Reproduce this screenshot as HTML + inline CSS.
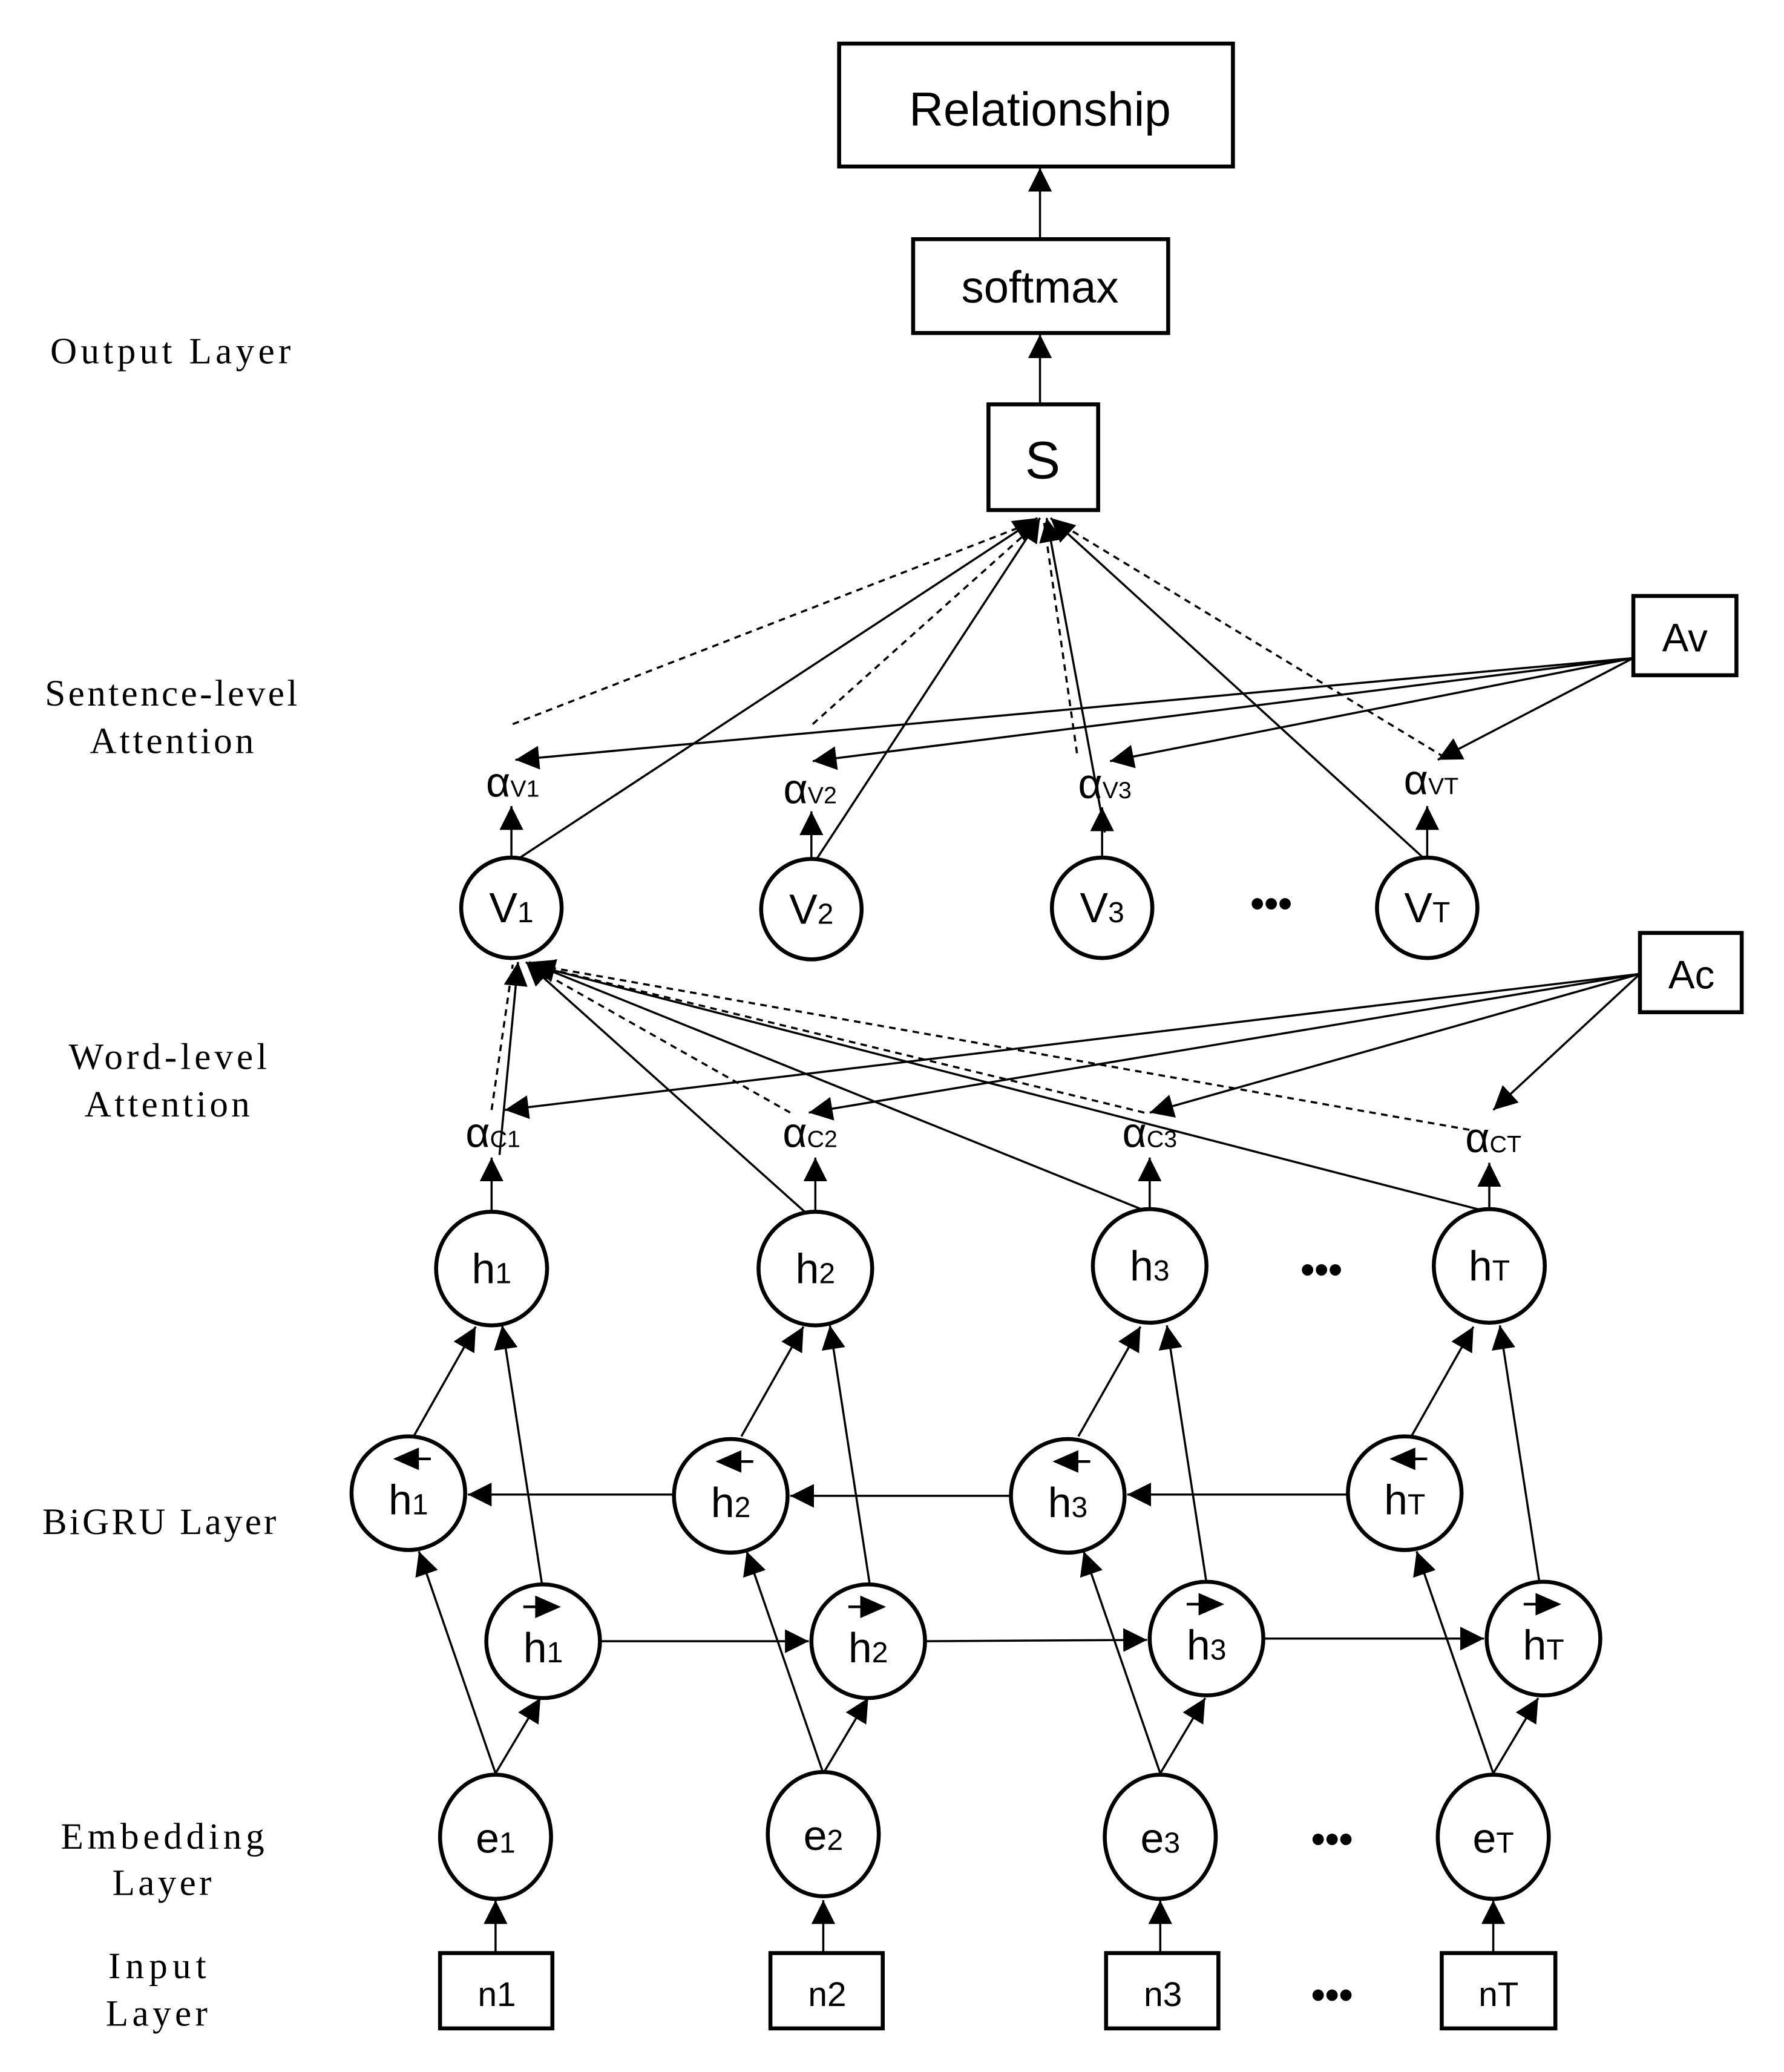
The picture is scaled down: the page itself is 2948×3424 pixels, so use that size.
<!DOCTYPE html>
<html><head><meta charset="utf-8"><style>html,body{margin:0;padding:0;background:#fff}svg{display:block}</style></head>
<body>
<svg width="2948" height="3424" viewBox="0 0 1350 1568" preserveAspectRatio="none" xmlns="http://www.w3.org/2000/svg">
<defs>
<marker id="a" viewBox="0 0 10 10" refX="10" refY="5" markerWidth="18" markerHeight="18" markerUnits="userSpaceOnUse" orient="auto"><path d="M0,0L10,5L0,10z" fill="#000"/></marker>
</defs>
<rect width="1350" height="1568" fill="#fff"/>
<g font-family="Liberation Serif, serif" font-size="28" fill="#000" lengthAdjust="spacingAndGlyphs">
<text x="38" y="275" textLength="182">Output Layer</text>
<text x="34" y="534" textLength="191">Sentence-level</text><text x="68" y="570" textLength="124">Attention</text>
<text x="52" y="809" textLength="150">Word-level</text><text x="64" y="845" textLength="125">Attention</text>
<text x="32" y="1161" textLength="177">BiGRU Layer</text>
<text x="46" y="1399" textLength="154">Embedding</text><text x="85" y="1434" textLength="75">Layer</text>
<text x="82" y="1497" textLength="74">Input</text><text x="80" y="1533" textLength="77">Layer</text>
</g>
<g stroke="#000" stroke-width="1.6" fill="none">
<line x1="787" y1="181" x2="787" y2="127" marker-end="url(#a)"/>
<line x1="787" y1="306" x2="787" y2="253" marker-end="url(#a)"/>
<line x1="392" y1="650" x2="785" y2="392" marker-end="url(#a)"/>
<line x1="618" y1="650" x2="787" y2="392" marker-end="url(#a)"/>
<line x1="836" y1="630" x2="792" y2="392" marker-end="url(#a)"/>
<line x1="1078" y1="650" x2="795" y2="392" marker-end="url(#a)"/>
<g stroke-dasharray="5,4">
<line x1="388" y1="548" x2="782" y2="395"/>
<line x1="615" y1="548" x2="786" y2="395"/>
<line x1="815" y1="570" x2="790" y2="395"/>
<line x1="1093" y1="573" x2="800" y2="395"/>
</g>
<line x1="1236" y1="498" x2="390" y2="575" marker-end="url(#a)"/>
<line x1="1236" y1="498" x2="615" y2="576" marker-end="url(#a)"/>
<line x1="1236" y1="498" x2="840" y2="576" marker-end="url(#a)"/>
<line x1="1236" y1="498" x2="1088" y2="575" marker-end="url(#a)"/>
<line x1="387" y1="649" x2="387" y2="610" marker-end="url(#a)"/>
<line x1="614" y1="650" x2="614" y2="614" marker-end="url(#a)"/>
<line x1="834" y1="649" x2="834" y2="611" marker-end="url(#a)"/>
<line x1="1080" y1="649" x2="1080" y2="610" marker-end="url(#a)"/>
<line x1="378" y1="874" x2="392" y2="728" marker-end="url(#a)"/>
<line x1="610" y1="918" x2="398" y2="728" marker-end="url(#a)"/>
<line x1="866" y1="916" x2="400" y2="728" marker-end="url(#a)"/>
<line x1="1122" y1="916" x2="402" y2="730" marker-end="url(#a)"/>
<g stroke-dasharray="5,4">
<line x1="372" y1="840" x2="388" y2="730"/>
<line x1="598" y1="842" x2="400" y2="730"/>
<line x1="866" y1="842" x2="402" y2="730"/>
<line x1="1112" y1="855" x2="404" y2="730"/>
</g>
<line x1="1241" y1="737" x2="382" y2="840" marker-end="url(#a)"/>
<line x1="1241" y1="737" x2="612" y2="842" marker-end="url(#a)"/>
<line x1="1241" y1="737" x2="870" y2="842" marker-end="url(#a)"/>
<line x1="1241" y1="737" x2="1130" y2="840" marker-end="url(#a)"/>
<line x1="372" y1="917" x2="372" y2="876" marker-end="url(#a)"/>
<line x1="617" y1="917" x2="617" y2="876" marker-end="url(#a)"/>
<line x1="870" y1="915" x2="870" y2="876" marker-end="url(#a)"/>
<line x1="1127" y1="915" x2="1127" y2="880" marker-end="url(#a)"/>
<g id="col">
<line x1="375" y1="1342" x2="409" y2="1285" marker-end="url(#a)"/>
<line x1="375" y1="1342" x2="317" y2="1174" marker-end="url(#a)"/>
<line x1="313" y1="1087" x2="360" y2="1004" marker-end="url(#a)"/>
<line x1="410" y1="1198" x2="380" y2="1003" marker-end="url(#a)"/>
<line x1="375" y1="1478" x2="375" y2="1438" marker-end="url(#a)"/>
</g>
<use href="#col" transform="translate(248,0)"/>
<use href="#col" transform="translate(503,0)"/>
<use href="#col" transform="translate(755,0)"/>
<line x1="454" y1="1242" x2="612" y2="1242" marker-end="url(#a)"/>
<line x1="700" y1="1242" x2="868" y2="1241" marker-end="url(#a)"/>
<line x1="956" y1="1240" x2="1123" y2="1240" marker-end="url(#a)"/>
<line x1="509" y1="1131" x2="354" y2="1131" marker-end="url(#a)"/>
<line x1="764" y1="1132" x2="598" y2="1132" marker-end="url(#a)"/>
<line x1="1019" y1="1131" x2="853" y2="1131" marker-end="url(#a)"/>
</g>
<g stroke="#000" stroke-width="3" fill="#fff">
<rect x="635" y="33" width="298" height="93"/>
<rect x="691" y="181" width="193" height="71"/>
<rect x="748" y="306" width="83" height="80"/>
<rect x="1236" y="451" width="78" height="60"/>
<rect x="1241" y="706" width="77" height="60"/>
<ellipse cx="387" cy="687" rx="38" ry="38"/>
<ellipse cx="614" cy="688" rx="38" ry="38"/>
<ellipse cx="834" cy="687" rx="38" ry="38"/>
<ellipse cx="1080" cy="687" rx="38" ry="38"/>
<ellipse cx="372" cy="960" rx="42" ry="43"/>
<ellipse cx="617" cy="960" rx="43" ry="43"/>
<ellipse cx="870" cy="958" rx="43" ry="43"/>
<ellipse cx="1127" cy="958" rx="42" ry="43"/>
<ellipse cx="309" cy="1130" rx="43" ry="43"/>
<ellipse cx="553" cy="1132" rx="43" ry="43"/>
<ellipse cx="808" cy="1132" rx="43" ry="43"/>
<ellipse cx="1063" cy="1130" rx="43" ry="43"/>
<ellipse cx="411" cy="1242" rx="43" ry="43"/>
<ellipse cx="657" cy="1242" rx="43" ry="43"/>
<ellipse cx="913" cy="1240" rx="43" ry="43"/>
<ellipse cx="1168" cy="1240" rx="43" ry="43"/>
<ellipse cx="375" cy="1390" rx="42" ry="47"/>
<ellipse cx="623" cy="1388" rx="42" ry="47"/>
<ellipse cx="878" cy="1390" rx="42" ry="47"/>
<ellipse cx="1130" cy="1390" rx="42" ry="47"/>
<rect x="333" y="1478" width="85" height="57"/>
<rect x="583" y="1478" width="85" height="57"/>
<rect x="837" y="1478" width="85" height="57"/>
<rect x="1091" y="1478" width="86" height="57"/>
</g>
<g font-family="Liberation Sans, sans-serif" text-anchor="middle" fill="#000">
<text x="787" y="95" font-size="36">Relationship</text>
<text x="787" y="229" font-size="34">softmax</text>
<text x="789" y="362" font-size="40">S</text>
<text x="1275" y="493" font-size="30">Av</text>
<text x="1280" y="748" font-size="30">Ac</text>
<g font-size="32">
<text x="387" y="698">V<tspan font-size="22">1</tspan></text>
<text x="614" y="699">V<tspan font-size="22">2</tspan></text>
<text x="834" y="698">V<tspan font-size="22">3</tspan></text>
<text x="1080" y="698">V<tspan font-size="22">T</tspan></text>
<text x="372" y="971">h<tspan font-size="22">1</tspan></text>
<text x="617" y="971">h<tspan font-size="22">2</tspan></text>
<text x="870" y="969">h<tspan font-size="22">3</tspan></text>
<text x="1127" y="969">h<tspan font-size="22">T</tspan></text>
<text x="309" y="1146">h<tspan font-size="22">1</tspan></text>
<text x="553" y="1148">h<tspan font-size="22">2</tspan></text>
<text x="808" y="1148">h<tspan font-size="22">3</tspan></text>
<text x="1063" y="1146">h<tspan font-size="22">T</tspan></text>
<text x="411" y="1258">h<tspan font-size="22">1</tspan></text>
<text x="657" y="1258">h<tspan font-size="22">2</tspan></text>
<text x="913" y="1256">h<tspan font-size="22">3</tspan></text>
<text x="1168" y="1256">h<tspan font-size="22">T</tspan></text>
<text x="375" y="1402">e<tspan font-size="22">1</tspan></text>
<text x="623" y="1400">e<tspan font-size="22">2</tspan></text>
<text x="878" y="1402">e<tspan font-size="22">3</tspan></text>
<text x="1130" y="1402">e<tspan font-size="22">T</tspan></text>
</g>
<g font-size="26">
<text x="376" y="1518">n1</text><text x="626" y="1518">n2</text><text x="880" y="1518">n3</text><text x="1134" y="1518">nT</text>
</g>
<g font-size="32">
<text x="388" y="603">α<tspan font-size="18">V1</tspan></text>
<text x="613" y="608">α<tspan font-size="18">V2</tspan></text>
<text x="836" y="604">α<tspan font-size="18">V3</tspan></text>
<text x="1083" y="601">α<tspan font-size="18">VT</tspan></text>
<text x="373" y="868">α<tspan font-size="18">C1</tspan></text>
<text x="613" y="868">α<tspan font-size="18">C2</tspan></text>
<text x="870" y="868">α<tspan font-size="18">C3</tspan></text>
<text x="1130" y="872">α<tspan font-size="18">CT</tspan></text>
</g>
<g font-size="30" font-weight="bold">
<text x="962" y="694">•••</text><text x="1000" y="971">•••</text><text x="1008" y="1402">•••</text><text x="1008" y="1520">•••</text>
</g>
</g>
<g fill="#000" stroke="#000" stroke-width="2">
<g id="bk"><path d="M300,1104 L316,1097 L316,1111z"/><line x1="316" y1="1104" x2="326" y2="1104"/></g>
<use href="#bk" transform="translate(244,2)"/><use href="#bk" transform="translate(499,2)"/><use href="#bk" transform="translate(754,0)"/>
<g id="fw"><path d="M422,1216 L406,1209 L406,1223z"/><line x1="396" y1="1216" x2="406" y2="1216"/></g>
<use href="#fw" transform="translate(246,0)"/><use href="#fw" transform="translate(502,-2)"/><use href="#fw" transform="translate(757,-2)"/>
</g>
</svg>
</body></html>
